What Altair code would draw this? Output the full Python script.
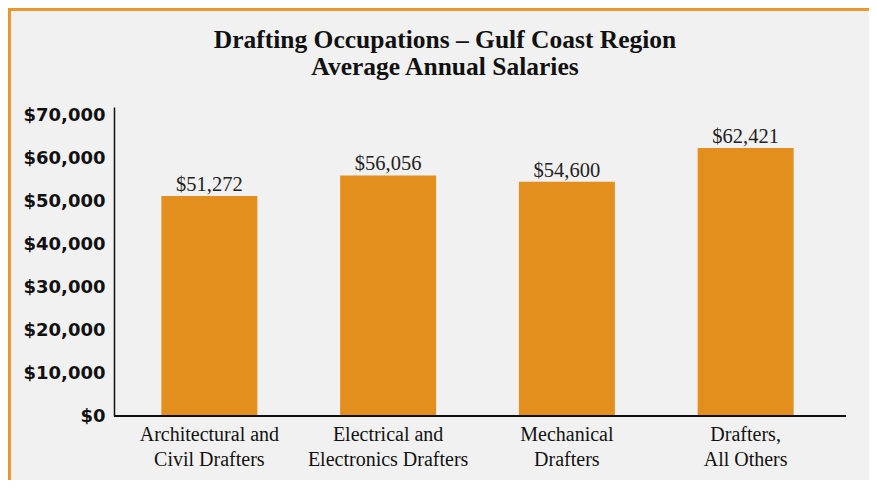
import altair as alt
import pandas as pd

categories = ["Architectural and|Civil Drafters", "Electrical and|Electronics Drafters",
              "Mechanical|Drafters", "Drafters,|All Others"]
salaries = [51272, 56056, 54600, 62421]
labels = ["$51,272", "$56,056", "$54,600", "$62,421"]
y_ticks = [0, 10000, 20000, 30000, 40000, 50000, 60000, 70000]
title_lines = ["Drafting Occupations – Gulf Coast Region", "Average Annual Salaries"]

df = pd.DataFrame({"cat": categories, "val": salaries, "lab": labels})
tdf = pd.DataFrame({"t": title_lines, "i": [0, 1]})

ORANGE = "#E38F1D"
SERIF = "Liberation Serif"

xscale = alt.Scale(range=[6, 721], paddingInner=0.47, paddingOuter=0.235)
x = alt.X("cat:N", sort=categories, title=None, scale=xscale,
          axis=alt.Axis(labelAngle=0, labelFont=SERIF, labelFontSize=20, labelColor="#111",
                        labelPadding=8, labelLineHeight=25, ticks=False, domain=False,
                        labelExpr="split(datum.label, '|')"))
y = alt.Y("val:Q", title=None,
          scale=alt.Scale(domain=[0, 72000], nice=False),
          axis=alt.Axis(values=y_ticks, format="$,.0f", labelFont="DejaVu Sans",
                        labelFontWeight="bold", labelFontSize=18, labelColor="#111",
                        labelPadding=9, ticks=False, grid=False, domainColor="#111",
                        domainWidth=1.5))

base = alt.Chart(df)
bars = base.mark_bar(color=ORANGE, size=96).encode(x=x, y=y)
text = base.mark_text(font=SERIF, fontSize=20.5, color="#222", baseline="bottom", dy=-1).encode(
    x=alt.X("cat:N", sort=categories, scale=xscale), y="val:Q", text="lab:N")
xdomain = base.mark_rule(color="#111", strokeWidth=1.5).encode(
    x=alt.value(0), x2=alt.value(732), y=alt.value(309))

def title_line(i, ypos):
    return alt.Chart(tdf).transform_filter(f"datum.i == {i}").mark_text(
        font=SERIF, fontSize=25.5, fontWeight="bold", color="#111",
        baseline="alphabetic", align="center").encode(
        text="t:N", x=alt.value(331), y=alt.value(ypos))

title1 = title_line(0, -59)
title2 = title_line(1, -32)

border_top = base.mark_rule(color="#E8962B", strokeWidth=3).encode(
    x=alt.value(-106), x2=alt.value(760), y=alt.value(-98))
border_left = base.mark_rule(color="#E8962B", strokeWidth=3).encode(
    x=alt.value(-105), y=alt.value(-99), y2=alt.value(400))

chart = alt.layer(bars, text, xdomain, title1, title2, border_top, border_left).properties(
    width=732, height=309,
    autosize=alt.AutoSizeParams(type="none"),
    padding={"left": 106, "top": 99, "right": 23, "bottom": 64},
).configure(background="#F1F1F1").configure_view(stroke=None)

chart.save("out.html", embed_options={"renderer": "svg", "actions": False})
